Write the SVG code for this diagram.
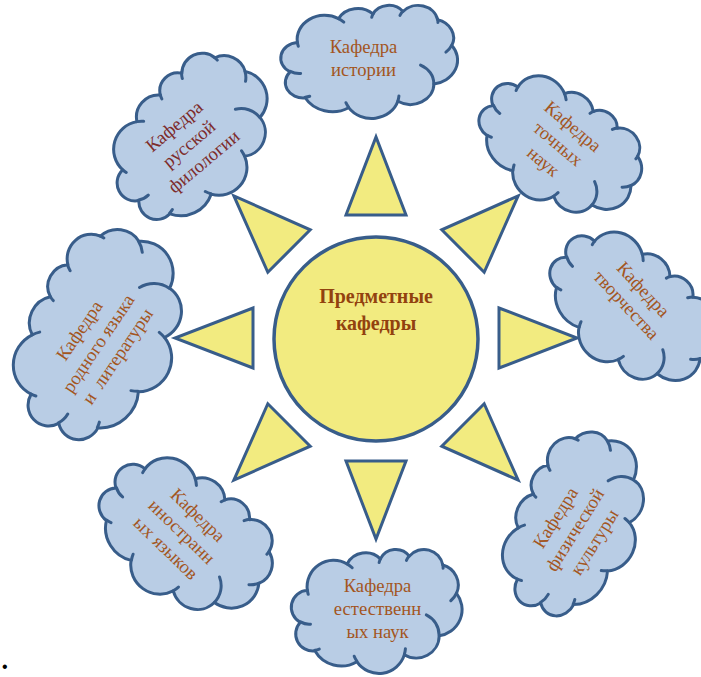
<svg xmlns="http://www.w3.org/2000/svg" xmlns:xlink="http://www.w3.org/1999/xlink" width="701" height="677" viewBox="0 0 701 677">
<style>
.cl{fill:#B9CDE5;stroke:#385D8A;stroke-width:3;vector-effect:non-scaling-stroke;stroke-linejoin:round}
.ci{fill:none;stroke:#385D8A;stroke-width:3;vector-effect:non-scaling-stroke;stroke-linecap:round}
.ray{fill:#F2EB80;stroke:#385D8A;stroke-width:3;stroke-linejoin:miter}
.t{font-family:"Liberation Serif","Times New Roman",serif;font-size:18.67px;fill:#A3561F;text-anchor:middle}
.t2{fill:#7D2B2B}
.c{font-family:"Liberation Serif","Times New Roman",serif;font-size:20px;font-weight:bold;fill:#92420F;text-anchor:middle}
</style>
<defs>
<path id="cloudShape" class="cl" d="M3900 14370 A6753 9190 0 0 1 14005 5202 A5333 7267 0 0 1 22456 3432 A4365 5945 0 0 1 29833 2480 A4857 6595 0 0 1 38318 5576 A5333 7273 0 0 1 41818 15459 A6775 9220 0 0 1 37404 30202 A5785 7867 0 0 1 28555 36812 A6752 9215 0 0 1 16481 39265 A7720 10543 0 0 1 5807 35473 A4360 5918 0 0 1 2116 25550 A4345 5945 0 0 1 3900 14370 Z"/>
<path id="cloudInner" class="ci" d="M4693 26177 A4345 5945 0 0 1 2160 25380 M6928 34899 A4360 5918 0 0 1 5820 35280 M16478 39090 A6752 9215 0 0 1 15809 37348 M28827 34751 A6752 9215 0 0 1 28560 36660 M34129 22954 A5785 7867 0 0 1 37381 30090 M41798 15354 A5333 7273 0 0 1 40349 18030 M38324 5426 A4857 6595 0 0 1 38400 6690 M29078 3952 A4857 6595 0 0 1 29821 2339 M22141 4720 A4365 5945 0 0 1 22500 3331 M14000 5192 A6753 9190 0 0 1 15300 6540 M4127 15789 A6753 9190 0 0 1 3901 14370"/>
<g id="cloud">
<use xlink:href="#cloudShape" href="#cloudShape"/>
<use xlink:href="#cloudInner" href="#cloudInner"/>
</g>
</defs>

<g id="connectors">
<polygon class="ray" points="346,215 406,215 376,137"/>
<polygon class="ray" points="346,215 406,215 376,137" transform="rotate(45 376 338)"/>
<polygon class="ray" points="346,215 406,215 376,137" transform="rotate(90 376 338)"/>
<polygon class="ray" points="346,215 406,215 376,137" transform="rotate(135 376 338)"/>
<polygon class="ray" points="346,215 406,215 376,137" transform="rotate(180 376 338)"/>
<polygon class="ray" points="346,215 406,215 376,137" transform="rotate(225 376 338)"/>
<polygon class="ray" points="346,215 406,215 376,137" transform="rotate(270 376 338)"/>
<polygon class="ray" points="346,215 406,215 376,137" transform="rotate(315 376 338)"/>
</g>

<g id="center">
<circle cx="376" cy="339" r="102" fill="#F2EB80" stroke="#385D8A" stroke-width="3.5"/>
<text class="c" x="376" y="303">Предметные</text>
<text class="c" x="376" y="330">кафедры</text>
</g>

<g id="history">
<use xlink:href="#cloud" href="#cloud" transform="translate(369.5 61.5) translate(-88 -56.5) scale(0.0040741 0.0026157)"/>
<g transform="translate(363.5 58.7)">
<text class="t" x="0" y="-5.5">Кафедра</text>
<text class="t" x="0" y="17.5">истории</text>
</g>
</g>

<g id="russian">
<use xlink:href="#cloud" href="#cloud" transform="translate(193 139.5) rotate(-40) translate(-89.5 -65.5) scale(0.0041435 0.0030324)"/>
<g transform="translate(189 144) rotate(-40)">
<text class="t t2" x="0" y="-17">Кафедра</text>
<text class="t t2" x="0" y="6">русской</text>
<text class="t t2" x="0" y="29">филологии</text>
</g>
</g>

<g id="exact">
<use xlink:href="#cloud" href="#cloud" transform="translate(559 147) rotate(40) translate(-85.5 -58.5) scale(0.0039583 0.0027083)"/>
<g transform="translate(558 144) rotate(40)">
<text class="t" x="0" y="-17">Кафедра</text>
<text class="t" x="0" y="6">точных</text>
<text class="t" x="0" y="29">наук</text>
</g>
</g>

<g id="art">
<use xlink:href="#cloud" href="#cloud" transform="translate(630 309) rotate(47) translate(-90 -61) scale(0.0041667 0.0028241)"/>
<g transform="translate(634.7 297.2) rotate(47)">
<text class="t" x="0" y="-5.5">Кафедра</text>
<text class="t" x="0" y="17.5">творчества</text>
</g>
</g>

<g id="native">
<use xlink:href="#cloud" href="#cloud" transform="translate(101 336) rotate(-56) translate(-106.5 -76) scale(0.0049306 0.0035185)"/>
<g transform="translate(98.5 343.5) rotate(-56)">
<text class="t" x="0" y="-17">Кафедра</text>
<text class="t" x="0" y="6">родного языка</text>
<text class="t" x="0" y="29">и&#160; литературы</text>
</g>
</g>

<g id="foreign">
<use xlink:href="#cloud" href="#cloud" transform="translate(184 537) rotate(44) translate(-92 -65.5) scale(0.0042593 0.0030324)"/>
<g transform="translate(181.7 531.7) rotate(44)">
<text class="t" x="0" y="-17">Кафедра</text>
<text class="t" x="0" y="6">иностранн</text>
<text class="t" x="0" y="29">ых языков</text>
</g>
</g>

<g id="natural">
<use xlink:href="#cloud" href="#cloud" transform="translate(377 611) translate(-85 -62) scale(0.0039352 0.0028704)"/>
<g transform="translate(377.5 609)">
<text class="t" x="0" y="-17">Кафедра</text>
<text class="t" x="0" y="6">естественн</text>
<text class="t" x="0" y="29">ых наук</text>
</g>
</g>

<g id="physical">
<use xlink:href="#cloud" href="#cloud" transform="translate(576 525) rotate(-58) translate(-94 -62.5) scale(0.0043519 0.0028935)"/>
<g transform="translate(575 530) rotate(-58)">
<text class="t" x="0" y="-17">Кафедра</text>
<text class="t" x="0" y="6">физической</text>
<text class="t" x="0" y="29">культуры</text>
</g>
</g>

<text x="2" y="672" font-family="Liberation Sans, sans-serif" font-size="16px" fill="#000">•</text>
</svg>
